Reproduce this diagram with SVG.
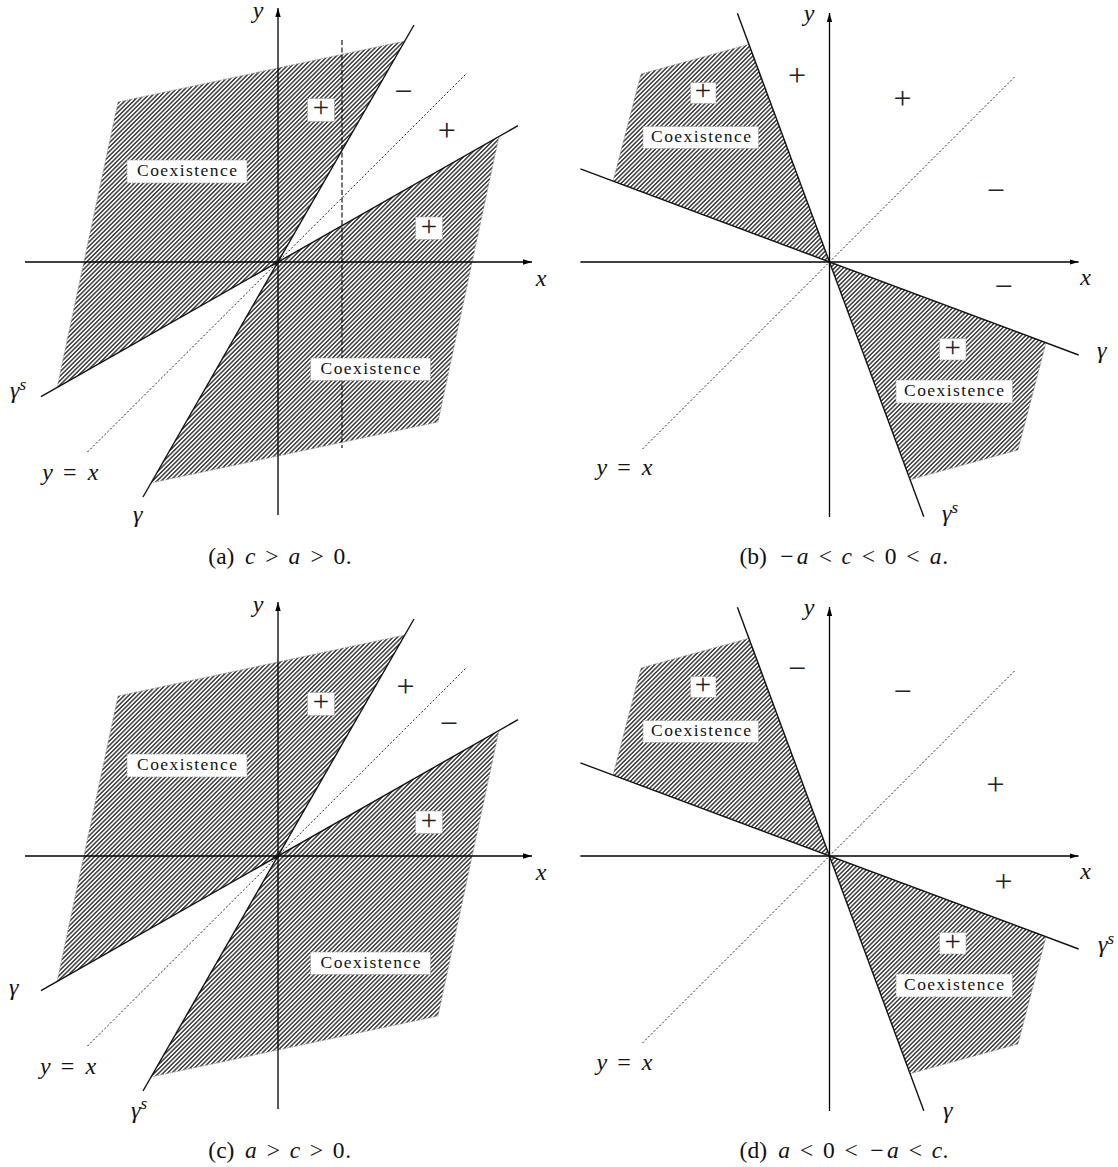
<svg xmlns="http://www.w3.org/2000/svg" width="1118" height="1167" viewBox="0 0 1118 1167" font-family="Liberation Serif, DejaVu Serif, serif">
<defs>
<style>
.ax{stroke:#000;stroke-width:1.3;fill:none}
.cur{stroke:#111;stroke-width:1.4;fill:none}
.diag{stroke:#222;stroke-width:1;stroke-dasharray:2 2;fill:none}
.vdash{stroke:#000;stroke-width:1.1;stroke-dasharray:5 2.5;fill:none}
.reg{fill:url(#hatch);stroke:none}
.bd{fill:none;stroke:#999;stroke-width:1;stroke-dasharray:1.2 1.2}
.box{fill:#fff;stroke:#999;stroke-width:1;stroke-dasharray:1.2 1.2}
.lbl{font-size:17.5px;text-anchor:middle;fill:#111}
.math{font-style:italic;font-size:24px;fill:#111}
.mid{text-anchor:middle}
.up{font-style:normal}
.sup{font-size:17px}
.sgn{font-size:32px;fill:#222;text-anchor:middle}
.bsgn{font-size:29px;fill:#222;text-anchor:middle}
.cap{font-size:23.5px;text-anchor:middle;fill:#111}
.it{font-style:italic}
</style>
<marker id="arr" markerUnits="userSpaceOnUse" markerWidth="10" markerHeight="8" refX="9" refY="4" orient="auto"><path d="M0,1.3 L9,4 L0,6.7 Z" fill="#000"/></marker>
<pattern id="hatch" patternUnits="userSpaceOnUse" width="3.1" height="3.1" patternTransform="rotate(45)"><line x1="1.55" y1="-1" x2="1.55" y2="4.1" stroke="#000" stroke-width="1.15"/></pattern>
</defs>

<!-- Panel (a) -->
<g id="panel-a" font-family="Liberation Serif, DejaVu Serif, serif">
 <polygon class="reg" points="118,102 405,41 278,262 57,387.5"/>
 <polygon class="reg" points="438,422 151,483 278,262 499,136.5"/>
 <polyline class="bd" points="405,41 118,102 57,387.5"/>
 <polyline class="bd" points="151,483 438,422 499,136.5"/>
 <g id="connectors-a">
  <line class="ax" x1="25" y1="262" x2="532" y2="262" marker-end="url(#arr)"/>
  <line class="ax" x1="278" y1="515" x2="278" y2="8" marker-end="url(#arr)"/>
  <line class="diag" x1="87.5" y1="452" x2="467" y2="73"/>
  <line class="cur" x1="41" y1="396.6" x2="518" y2="125.7"/>
  <line class="cur" x1="143" y1="497" x2="414" y2="25"/>
  <line class="vdash" x1="342" y1="40" x2="342" y2="448"/>
 </g>
 <rect class="box" x="127" y="160" width="120" height="23"/>
 <text class="lbl" x="187" y="176" textLength="100" lengthAdjust="spacing">Coexistence</text>
 <rect class="box" x="310.5" y="358" width="120" height="22.5"/>
 <text class="lbl" x="370.5" y="374" textLength="100" lengthAdjust="spacing">Coexistence</text>
 <rect class="box" x="307.5" y="98.5" width="27" height="23"/>
 <text class="bsgn" x="321" y="117.3">+</text>
 <rect class="box" x="415.5" y="217" width="27" height="22.5"/>
 <text class="bsgn" x="429" y="235.6">+</text>
 <text class="sgn" x="403.3" y="102.1">−</text>
 <text class="sgn" x="446.7" y="141.4">+</text>
 <text class="math mid" x="258" y="18">y</text>
 <text class="math mid" x="541" y="286">x</text>
 <text class="math" x="10" y="398">γ<tspan class="sup" dy="-8">s</tspan></text>
 <text class="math mid" y="480"><tspan x="47.6">y</tspan><tspan class="up" x="69.8">=</tspan><tspan x="93">x</tspan></text>
 <text class="math" x="133" y="522">γ</text>
 <text class="cap" y="564"><tspan x="221.4">(a)</tspan><tspan class="it" x="250.3">c</tspan><tspan x="271.8">&gt;</tspan><tspan class="it" x="294.4">a</tspan><tspan x="317.05">&gt;</tspan><tspan x="339.3">0</tspan><tspan x="348.8">.</tspan></text>
</g>

<!-- Panel (b) -->
<g id="panel-b" font-family="Liberation Serif, DejaVu Serif, serif">
 <polygon class="reg" points="748.9,44.3 641,74 613,181.2 829.5,262"/>
 <polygon class="reg" points="910.1,479.7 1018,450 1046,342.8 829.5,262"/>
 <polyline class="bd" points="748.9,44.3 641,74 613,181.2"/>
 <polyline class="bd" points="910.1,479.7 1018,450 1046,342.8"/>
 <g id="connectors-b">
  <line class="ax" x1="580.4" y1="262" x2="1078.6" y2="262" marker-end="url(#arr)"/>
  <line class="ax" x1="829.5" y1="517" x2="829.5" y2="13" marker-end="url(#arr)"/>
  <line class="diag" x1="642.5" y1="449" x2="1015" y2="76.5"/>
  <line class="cur" x1="737.4" y1="13.3" x2="923.8" y2="516.7"/>
  <line class="cur" x1="580.4" y1="168.9" x2="1078.6" y2="355"/>
 </g>
 <rect class="box" x="643" y="126.5" width="115.5" height="22"/>
 <text class="lbl" x="701" y="142" textLength="100" lengthAdjust="spacing">Coexistence</text>
 <rect class="box" x="896" y="380" width="116.5" height="23"/>
 <text class="lbl" x="954" y="396" textLength="100" lengthAdjust="spacing">Coexistence</text>
 <rect class="box" x="690.5" y="82.5" width="25.5" height="21"/>
 <text class="bsgn" x="703" y="100.3">+</text>
 <rect class="box" x="939.5" y="338.5" width="26.5" height="21.5"/>
 <text class="bsgn" x="952.7" y="356.5">+</text>
 <text class="sgn" x="797" y="85.6">+</text>
 <text class="sgn" x="902.5" y="108.9">+</text>
 <text class="sgn" x="995.8" y="200.8">−</text>
 <text class="sgn" x="1003.5" y="297.4">−</text>
 <text class="math mid" x="809" y="21">y</text>
 <text class="math mid" x="1085.5" y="285">x</text>
 <text class="math" x="1097" y="357.5">γ</text>
 <text class="math" x="942" y="521">γ<tspan class="sup" dy="-8">s</tspan></text>
 <text class="math mid" y="475"><tspan x="601.75">y</tspan><tspan class="up" x="623.9">=</tspan><tspan x="647.1">x</tspan></text>
 <text class="cap" y="564"><tspan x="753.1">(b)</tspan><tspan x="786.8">−</tspan><tspan class="it" x="802.7">a</tspan><tspan x="825.35">&lt;</tspan><tspan class="it" x="846.8">c</tspan><tspan x="868.3">&lt;</tspan><tspan x="890.6">0</tspan><tspan x="912.9">&lt;</tspan><tspan class="it" x="935.5">a</tspan><tspan x="945.3">.</tspan></text>
</g>

<!-- Panel (c) -->
<g id="panel-c" transform="translate(0,594)" font-family="Liberation Serif, DejaVu Serif, serif">
 <polygon class="reg" points="118,102 405,41 278,262 57,387.5"/>
 <polygon class="reg" points="438,422 151,483 278,262 499,136.5"/>
 <polyline class="bd" points="405,41 118,102 57,387.5"/>
 <polyline class="bd" points="151,483 438,422 499,136.5"/>
 <g id="connectors-c">
  <line class="ax" x1="25" y1="262" x2="532" y2="262" marker-end="url(#arr)"/>
  <line class="ax" x1="278" y1="515" x2="278" y2="8" marker-end="url(#arr)"/>
  <line class="diag" x1="87.5" y1="452" x2="467" y2="73"/>
  <line class="cur" x1="41" y1="396.6" x2="518" y2="125.7"/>
  <line class="cur" x1="143" y1="497" x2="414" y2="25"/>
 </g>
 <rect class="box" x="127" y="160" width="120" height="23"/>
 <text class="lbl" x="187" y="176" textLength="100" lengthAdjust="spacing">Coexistence</text>
 <rect class="box" x="310.5" y="358" width="120" height="22.5"/>
 <text class="lbl" x="370.5" y="374" textLength="100" lengthAdjust="spacing">Coexistence</text>
 <rect class="box" x="307.5" y="98.5" width="27" height="23"/>
 <text class="bsgn" x="321" y="117.3">+</text>
 <rect class="box" x="415.5" y="217" width="27" height="22.5"/>
 <text class="bsgn" x="429" y="235.6">+</text>
 <text class="sgn" x="405.6" y="103">+</text>
 <text class="sgn" x="448.7" y="140">−</text>
 <text class="math mid" x="258" y="18">y</text>
 <text class="math mid" x="541" y="286">x</text>
 <text class="math" x="9" y="401">γ</text>
 <text class="math mid" y="480"><tspan x="45.45">y</tspan><tspan class="up" x="67.6">=</tspan><tspan x="90.8">x</tspan></text>
 <text class="math" x="131" y="524">γ<tspan class="sup" dy="-9">s</tspan></text>
 <text class="cap" y="564"><tspan x="221.4">(c)</tspan><tspan class="it" x="250.8">a</tspan><tspan x="273.4">&gt;</tspan><tspan class="it" x="294.9">c</tspan><tspan x="316.3">&gt;</tspan><tspan x="338.6">0</tspan><tspan x="348.1">.</tspan></text>
</g>

<!-- Panel (d) -->
<g id="panel-d" transform="translate(0,594)" font-family="Liberation Serif, DejaVu Serif, serif">
 <polygon class="reg" points="748.9,44.3 641,74 613,181.2 829.5,262"/>
 <polygon class="reg" points="910.1,479.7 1018,450 1046,342.8 829.5,262"/>
 <polyline class="bd" points="748.9,44.3 641,74 613,181.2"/>
 <polyline class="bd" points="910.1,479.7 1018,450 1046,342.8"/>
 <g id="connectors-d">
  <line class="ax" x1="580.4" y1="262" x2="1078.6" y2="262" marker-end="url(#arr)"/>
  <line class="ax" x1="829.5" y1="517" x2="829.5" y2="13" marker-end="url(#arr)"/>
  <line class="diag" x1="642.5" y1="449" x2="1015" y2="76.5"/>
  <line class="cur" x1="737.4" y1="13.3" x2="923.8" y2="516.7"/>
  <line class="cur" x1="580.4" y1="168.9" x2="1078.6" y2="355"/>
 </g>
 <rect class="box" x="643" y="126.5" width="115.5" height="22"/>
 <text class="lbl" x="701" y="142" textLength="100" lengthAdjust="spacing">Coexistence</text>
 <rect class="box" x="896" y="380" width="116.5" height="23"/>
 <text class="lbl" x="954" y="396" textLength="100" lengthAdjust="spacing">Coexistence</text>
 <rect class="box" x="690.5" y="82.5" width="25.5" height="21"/>
 <text class="bsgn" x="703" y="100.3">+</text>
 <rect class="box" x="939.5" y="338.5" width="26.5" height="21.5"/>
 <text class="bsgn" x="952.7" y="356.5">+</text>
 <text class="sgn" x="797" y="85">−</text>
 <text class="sgn" x="902.5" y="107.5">−</text>
 <text class="sgn" x="995.5" y="201">+</text>
 <text class="sgn" x="1003.5" y="298">+</text>
 <text class="math mid" x="809" y="21">y</text>
 <text class="math mid" x="1085.5" y="285">x</text>
 <text class="math" x="1098" y="358">γ<tspan class="sup" dy="-8">s</tspan></text>
 <text class="math" x="943" y="524">γ</text>
 <text class="math mid" y="476"><tspan x="601.75">y</tspan><tspan class="up" x="623.9">=</tspan><tspan x="647.1">x</tspan></text>
 <text class="cap" y="564"><tspan x="753.3">(d)</tspan><tspan class="it" x="784">a</tspan><tspan x="806.65">&lt;</tspan><tspan x="828.9">0</tspan><tspan x="851.2">&lt;</tspan><tspan x="876.9">−</tspan><tspan class="it" x="892.75">a</tspan><tspan x="915.4">&lt;</tspan><tspan class="it" x="936.9">c</tspan><tspan x="945.5">.</tspan></text>
</g>
</svg>
